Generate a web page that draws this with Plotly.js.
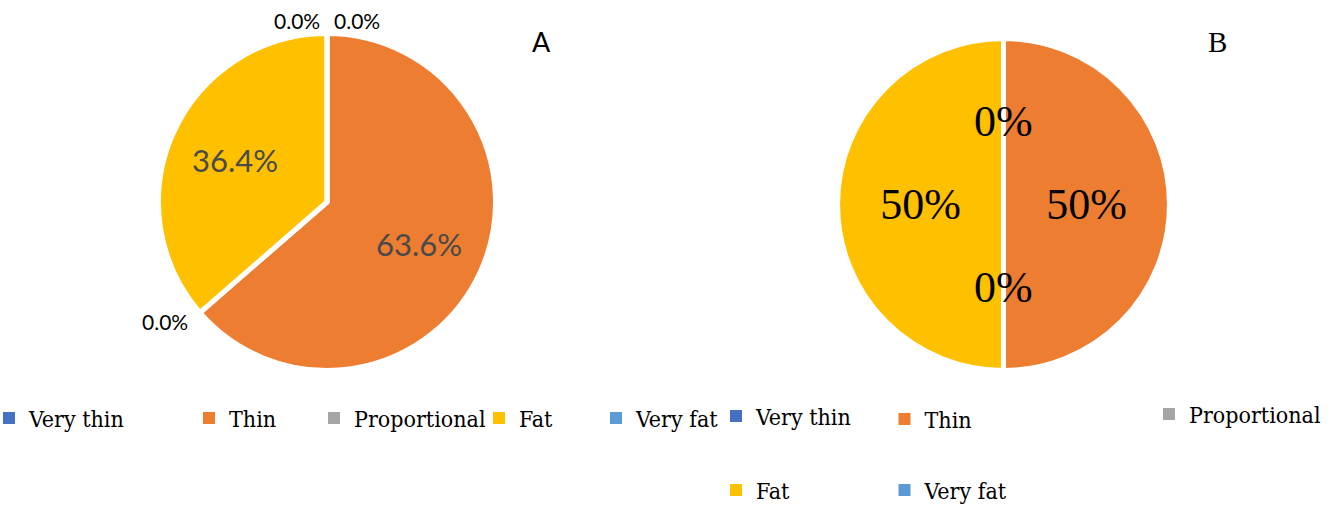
<!DOCTYPE html>
<html>
<head>
<meta charset="utf-8">
<script src="https://cdn.plot.ly/plotly-3.0.1.min.js"></script>
<style>
  html, body { margin: 0; padding: 0; background: #ffffff; }
  #chart { width: 1344px; height: 505px; }
</style>
</head>
<body>
<div id="chart"></div>
<script>
// Body-shape categories and the share (%) of each, per group
const categories = ['Very thin', 'Thin', 'Proportional', 'Fat', 'Very fat'];
const shareA = [0, 63.6, 0, 36.4, 0];
const shareB = [0, 50, 0, 50, 0];
const sliceColors = ['#4472C4', '#ED7D31', '#A5A5A5', '#FFC000', '#5B9BD5'];
const panelTitles = ['A', 'B'];

const W = 1344, H = 505;
const px = x => x / W;          // pixel -> paper x
const py = y => 1 - y / H;      // pixel -> paper y (from top)

// Pie geometry in pixels (centre and radius incl. white outline)
const pies = [
  { cx: 327, cy: 202, r: 168.5 },
  { cx: 1003.5, cy: 204.5, r: 166 }
];
function domainOf(p) {
  return { x: [px(p.cx - p.r), px(p.cx + p.r)], y: [py(p.cy + p.r), py(p.cy - p.r)] };
}

const sansFamily = 'Lato, "Open Sans", sans-serif';
const serifFamily = '"Liberation Serif", "Times New Roman", serif';
const labelFontA = { family: sansFamily, size: 31, color: '#4a4a4a' };
const zeroFontA = { family: sansFamily, size: 21, color: '#000000' };
const labelFontB = { family: serifFamily, size: 44, color: '#000000' };

function pieTrace(values, pie, fmt, font) {
  const t = {
    type: 'pie',
    labels: categories,
    values: values,
    sort: false,
    direction: 'clockwise',
    rotation: 0,
    marker: { colors: sliceColors, line: { color: '#ffffff', width: 5 } },
    showlegend: false,
    hoverinfo: 'label+percent',
    domain: domainOf(pie)
  };
  if (fmt) {
    t.texttemplate = values.map(v => (v > 0 ? fmt : ''));
    t.textposition = 'inside';
    t.insidetextorientation = 'horizontal';
    t.textfont = font;
  } else {
    t.textinfo = 'none';
  }
  return t;
}

const traces = [
  pieTrace(shareA, pies[0], null, null),
  pieTrace(shareB, pies[1], '%{percent:.0%}', labelFontB)
];

// Percentage labels placed along the slices' angles (clockwise from 12 o'clock).
// which: 'zero' labels the empty slices at their edge, 'mid' labels the others at mid-angle.
function sliceLabels(values, pie, dist, digits, font, which, outside) {
  const total = values.reduce((a, b) => a + b, 0);
  const out = [];
  const seen = new Set();
  let cum = 0;
  values.forEach((v) => {
    const a0 = cum / total * 2 * Math.PI;
    const a1 = (cum + v) / total * 2 * Math.PI;
    cum += v;
    if (which === 'zero' && v > 0) return;
    if (which === 'mid' && v <= 0) return;
    const a = which === 'mid' ? (a0 + a1) / 2 : a0;
    const x = pie.cx + dist * pie.r * Math.sin(a);
    const y = pie.cy - dist * pie.r * Math.cos(a);
    let xanchor = 'center', xshift = 0;
    if (outside) {
      const s = Math.sin(a);
      const right = s > 1e-6 || (Math.abs(s) <= 1e-6 && a < Math.PI);
      xanchor = right ? 'left' : 'right';
      if (Math.abs(s) <= 1e-6) xshift = right ? 5 : -5;
    }
    const key = Math.round(x) + ',' + Math.round(y) + ',' + xanchor;
    if (seen.has(key)) return;
    seen.add(key);
    out.push({
      xref: 'paper', yref: 'paper', x: px(x), y: py(y),
      xanchor: xanchor, yanchor: 'middle', xshift: xshift,
      text: (100 * v / total).toFixed(digits) + '%',
      showarrow: false, font: font
    });
  });
  return out;
}

const annotations = [
  ...sliceLabels(shareA, pies[0], 0.6, 1, labelFontA, 'mid', false),
  ...sliceLabels(shareA, pies[0], 1.08, 1, zeroFontA, 'zero', true),
  ...sliceLabels(shareB, pies[1], 0.5, 0, labelFontB, 'zero', false),
  { xref: 'paper', yref: 'paper', x: px(541), y: py(42), xanchor: 'center', yanchor: 'middle',
    text: panelTitles[0], showarrow: false,
    font: { family: sansFamily, size: 27, color: '#000000' } },
  { xref: 'paper', yref: 'paper', x: px(1217), y: py(42), xanchor: 'center', yanchor: 'middle',
    text: panelTitles[1], showarrow: false,
    font: { family: serifFamily, size: 29, color: '#000000' } }
];

// Legend entries: one small legend per category and panel (square centre in px)
const legendSpots = [
  [[14, 418], [214, 418], [339, 418], [504, 418], [621, 418]],
  [[741, 416], [909.5, 419], [1174, 414], [741, 490], [909.5, 490]]
];
const legendFont = { family: '"DejaVu Serif Condensed", "Liberation Serif", serif', size: 23, color: '#000000' };

const layout = {
  width: W, height: H,
  margin: { l: 0, r: 0, t: 0, b: 0, autoexpand: false },
  paper_bgcolor: '#ffffff', plot_bgcolor: '#ffffff',
  // the legend-only traces sit on a hidden, fixed-range cartesian frame
  xaxis: { visible: false, range: [0, 1], fixedrange: true },
  yaxis: { visible: false, range: [0, 1], fixedrange: true },
  annotations: annotations
};

let n = 0;
legendSpots.forEach((spots) => {
  spots.forEach((s, i) => {
    n += 1;
    const key = 'legend' + (n === 1 ? '' : n);
    traces.push({
      type: 'scatter', x: [null], y: [null], mode: 'markers',
      name: categories[i],
      marker: { symbol: 'square', size: 12, color: sliceColors[i] },
      legend: key, showlegend: true, hoverinfo: 'skip'
    });
    layout[key] = {
      xref: 'paper', yref: 'paper',
      x: px(s[0] - 25), y: py(s[1]),
      xanchor: 'left', yanchor: 'middle',
      font: legendFont, bgcolor: 'rgba(0,0,0,0)', borderwidth: 0,
      itemclick: false, itemdoubleclick: false
    };
  });
});

Plotly.newPlot('chart', traces, layout, { displayModeBar: false, staticPlot: true });
</script>
</body>
</html>
